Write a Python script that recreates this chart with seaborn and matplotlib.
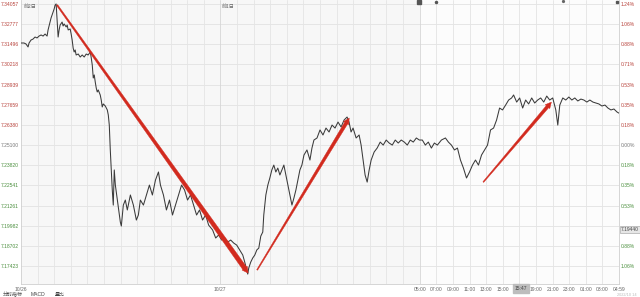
import numpy as np
import pandas as pd
import matplotlib
matplotlib.use("Agg")
import matplotlib.pyplot as plt
import seaborn as sns
from matplotlib.patches import Polygon
from matplotlib.transforms import IdentityTransform, blended_transform_factory

# ---------------- data ----------------
hours_a = [0.00, 0.36, 0.60, 0.85, 0.97, 1.21, 1.45, 1.69, 1.93, 2.17, 2.42, 2.66, 2.90, 3.14, 3.26,
           3.50, 3.62, 3.74, 3.87, 3.99, 4.11, 4.23]
price_a = [7.3158, 7.3158, 7.3152, 7.3133, 7.3158, 7.3177, 7.3183, 7.3196, 7.3190, 7.3202, 7.3209, 7.3202,
           7.3215, 7.3202, 7.3241, 7.3291, 7.3317, 7.3336, 7.3355, 7.3374, 7.3399, 7.3406]

hours_b = [4.35, 4.47, 4.59, 4.71, 4.95, 5.07, 5.19, 5.44, 5.56, 5.68, 5.92, 6.04, 6.16, 6.28, 6.40, 6.52,
           6.64, 6.89, 7.13, 7.37, 7.61, 7.85, 8.09, 8.34, 8.46, 8.58, 8.70, 8.82, 8.94, 9.06, 9.18, 9.30,
           9.54, 9.66, 9.78, 9.91, 10.15, 10.27, 10.39, 10.51, 10.63, 10.75]
price_b = [7.3304, 7.3196, 7.3241, 7.3272, 7.3291, 7.3266, 7.3279, 7.3260, 7.3272, 7.3241, 7.3247, 7.3215,
           7.3177, 7.3126, 7.3101, 7.3114, 7.3082, 7.3088, 7.3069, 7.3082, 7.3069, 7.3088, 7.3082, 7.3101,
           7.3063, 7.3018, 7.2936, 7.2955, 7.2910, 7.2872, 7.2847, 7.2860, 7.2828, 7.2796, 7.2752, 7.2771,
           7.2758, 7.2745, 7.2733, 7.2701, 7.2637, 7.2479]

hours_c = [10.99, 11.11, 11.23, 11.36, 11.60, 11.84, 11.96, 12.08, 12.20, 12.32, 12.56, 12.80, 13.17, 13.53,
           13.89, 14.13, 14.37, 14.74, 15.10, 15.46, 15.82, 16.19, 16.55, 16.79, 17.15, 17.51, 17.88, 18.24,
           18.60, 18.96, 19.33, 19.69, 20.05, 20.41, 20.78, 21.14, 21.50, 21.86, 22.23, 22.59, 23.07, 23.44,
           23.80, 24.16, 24.52, 24.88, 25.25, 25.61, 25.97, 26.33, 26.70, 26.94, 27.18, 27.30, 27.42]
price_c = [7.2225, 7.2129, 7.2352, 7.2256, 7.2161, 7.2066, 7.2021, 7.1996, 7.2066, 7.2129, 7.2161, 7.2098,
           7.2193, 7.2129, 7.2034, 7.2066, 7.2161, 7.2129, 7.2193, 7.2256, 7.2193, 7.2288, 7.2339, 7.2256,
           7.2193, 7.2098, 7.2161, 7.2066, 7.2129, 7.2193, 7.2256, 7.2225, 7.2161, 7.2193, 7.2129, 7.2066,
           7.2098, 7.2034, 7.2066, 7.2002, 7.1971, 7.1920, 7.1939, 7.1907, 7.1920, 7.1894, 7.1907, 7.1888,
           7.1875, 7.1844, 7.1812, 7.1767, 7.1717, 7.1691, 7.1729]

hours_d = [27.66, 27.90, 28.15, 28.39, 28.63, 28.87, 29.11, 29.23, 29.35, 29.48, 29.72, 29.96, 30.20, 30.44,
           30.68, 30.92, 31.17, 31.41, 31.65, 31.89, 32.13, 32.37, 32.62, 32.86, 33.10, 33.34, 33.58, 33.82,
           34.07, 34.43, 34.79, 35.03, 35.27, 35.64, 36.00, 36.36, 36.72, 37.09, 37.45, 37.81, 38.17, 38.54,
           38.90, 39.26, 39.50, 39.74, 39.98, 40.35, 40.71, 40.95, 41.19, 41.43, 41.68, 41.92, 42.16, 42.52,
           42.88, 43.25, 43.61, 43.97, 44.33, 44.70, 45.06, 45.42, 45.78, 46.15, 46.51, 46.87, 47.23, 47.60,
           47.96]
price_d = [7.1767, 7.1793, 7.1812, 7.1844, 7.1856, 7.1932, 7.1958, 7.2066, 7.2129, 7.2193, 7.2256, 7.2301,
           7.2352, 7.2383, 7.2339, 7.2364, 7.2320, 7.2352, 7.2383, 7.2320, 7.2256, 7.2193, 7.2129, 7.2174,
           7.2225, 7.2288, 7.2352, 7.2383, 7.2447, 7.2479, 7.2415, 7.2491, 7.2542, 7.2555, 7.2606, 7.2574,
           7.2618, 7.2593, 7.2637, 7.2618, 7.2656, 7.2625, 7.2669, 7.2688, 7.2656, 7.2593, 7.2618, 7.2555,
           7.2574, 7.2510, 7.2415, 7.2320, 7.2275, 7.2352, 7.2415, 7.2466, 7.2491, 7.2529, 7.2510, 7.2542,
           7.2523, 7.2510, 7.2542, 7.2523, 7.2542, 7.2529, 7.2510, 7.2542, 7.2529, 7.2555, 7.2542]

hours_e = [48.32, 48.68, 49.04, 49.41, 49.77, 50.13, 50.62, 51.10, 51.46, 51.82, 52.19, 52.55, 52.91, 53.27,
           53.64, 54.00, 54.36, 54.72, 55.08, 55.45, 55.81, 56.17, 56.53, 56.90, 57.26, 57.62, 57.98, 58.35,
           58.71, 59.07, 59.31, 59.68, 60.04, 60.40, 60.76, 61.12, 61.49, 61.85, 62.21, 62.57, 62.94, 63.30,
           63.66, 64.02, 64.39, 64.63, 64.87, 65.23, 65.59, 65.96, 66.32, 66.68, 67.04, 67.41, 67.77, 68.13,
           68.49, 68.86, 69.22, 69.58, 69.94, 70.31, 70.67, 71.03, 71.39, 71.76, 71.98]
price_e = [7.2542, 7.2510, 7.2529, 7.2491, 7.2523, 7.2510, 7.2542, 7.2555, 7.2529, 7.2510, 7.2479, 7.2491,
           7.2415, 7.2364, 7.2301, 7.2339, 7.2383, 7.2415, 7.2383, 7.2447, 7.2479, 7.2510, 7.2606, 7.2618,
           7.2669, 7.2745, 7.2733, 7.2764, 7.2796, 7.2809, 7.2828, 7.2783, 7.2809, 7.2745, 7.2796, 7.2771,
           7.2809, 7.2777, 7.2796, 7.2809, 7.2783, 7.2821, 7.2796, 7.2809, 7.2733, 7.2637, 7.2764, 7.2809,
           7.2796, 7.2815, 7.2796, 7.2809, 7.2790, 7.2802, 7.2796, 7.2783, 7.2796, 7.2783, 7.2777, 7.2771,
           7.2758, 7.2764, 7.2745, 7.2733, 7.2739, 7.2720, 7.2713]

left_labels = ["7.34057", "7.32777", "7.31496", "7.30218", "7.28939", "7.27659", "7.26380",
               "7.25100", "7.23820", "7.22541", "7.21261", "7.19982", "7.18702", "7.17423"]
# the 7th label below zero is hidden behind the current-price box in the reference
right_labels = ["1.24%", "1.06%", "0.88%", "0.71%", "0.53%", "0.35%", "0.18%",
                "0.00%", "0.18%", "0.35%", "0.53%", "", "0.88%", "1.06%"]
x_tick_hours = [0, 24, 48, 50, 52, 54, 56, 58, 60, 62, 64, 66, 68, 70, 71.98]
x_tick_labels = ["10/26", "10/27", "05:00", "07:00", "09:00", "11:00", "13:00", "15:00", "17:00",
                 "19:00", "21:00", "23:00", "01:00", "03:00", "04:59"]
# annotation arrows: (start hour, start price) -> (end hour, end price)
arrow_starts = [(4.34, 7.3399), (28.43, 7.1717), (55.66, 7.2275)]
arrow_ends = [(27.35, 7.1697), (39.52, 7.2682), (63.86, 7.2783)]

hours = hours_a + hours_b + hours_c + hours_d + hours_e
prices = price_a + price_b + price_c + price_d + price_e
df = pd.DataFrame({"hour": hours, "price": prices})

# ---------------- figure ----------------
sns.set_theme(style="white")
plt.rcParams["font.family"] = ["Liberation Sans", "DejaVu Sans"]
W, H = 640, 297
fig = plt.figure(figsize=(W / 100, H / 100), dpi=100)
fig.patch.set_facecolor("white")
ax = fig.add_axes([21 / W, 1 - 284 / H, (619 - 21) / W, 284 / H])
ax.set_facecolor("#f7f7f7")
ax.axvspan(48, 72, color="#fcfcfc", zorder=0, lw=0)

ymin, ymax = 7.1628, 7.3431
ax.set_xlim(0, 72)
ax.set_ylim(ymin, ymax)
ax.set_autoscale_on(False)

yticks = [float(v) for v in left_labels]
for y in yticks:
    ax.axhline(y, color="#e2e2e2", lw=0.6, zorder=1)
for xv in range(2, 72, 2):
    c = "#d6d6d6" if xv in (24, 48) else "#e4e4e4"
    ax.axvline(xv, color=c, lw=0.6, zorder=1)

sns.lineplot(data=df, x="hour", y="price", ax=ax, color="#3a3a3a", lw=0.75, zorder=3,
             estimator=None, sort=False)
ax.set_xlabel("")
ax.set_ylabel("")

ax.set_yticks(yticks)
ax.set_yticklabels(left_labels)
ref = 7.25100
red, green, grey = "#b8433c", "#4b8f3e", "#777777"
for lab, v in zip(ax.get_yticklabels(), yticks):
    lab.set_color(red if v > ref + 1e-6 else (green if v < ref - 1e-6 else grey))
    lab.set_fontsize(3.6)
ax.tick_params(axis="y", length=0, pad=1.5)

ax.set_xticks(x_tick_hours)
ax.set_xticklabels(x_tick_labels, fontsize=3.6, color="#666666")
ax.tick_params(axis="x", length=0, pad=2.0)

ax2 = ax.twinx()
ax2.set_ylim(ymin, ymax)
ax2.set_yticks(yticks)
ax2.set_yticklabels(right_labels)
for lab, v in zip(ax2.get_yticklabels(), yticks):
    lab.set_color(red if v > ref + 1e-6 else (green if v < ref - 1e-6 else grey))
    lab.set_fontsize(3.6)
ax2.tick_params(axis="y", length=0, pad=1.5)
ax2.grid(False)

for a in (ax, ax2):
    for s in a.spines.values():
        s.set_visible(False)
for side in ("left", "bottom", "right"):
    ax.spines[side].set_visible(True)
    ax.spines[side].set_color("#cfcfcf")
    ax.spines[side].set_linewidth(0.6)

# top labels
cjk = ["Noto Sans CJK SC", "DejaVu Sans"]
trans_top = blended_transform_factory(ax.transData, ax.transAxes)
ax.text(0.3, 0.985, "前2日", transform=trans_top, fontsize=3.6, color="#666666", family=cjk, va="top", ha="left")
ax.text(24.2, 0.985, "前1日", transform=trans_top, fontsize=3.6, color="#666666", family=cjk, va="top", ha="left")

# small event markers at the top
ax.plot([47.9], [0.994], marker="s", ms=2.2, color="#555555", transform=trans_top, clip_on=False, zorder=5)
ax.plot([50.0], [0.994], marker="o", ms=1.5, color="#555555", transform=trans_top, clip_on=False, zorder=5)
ax.plot([65.3], [0.996], marker="o", ms=1.3, color="#666666", transform=trans_top, clip_on=False, zorder=5)
ax.plot([71.8], [0.994], marker="s", ms=2.0, color="#555555", transform=trans_top, clip_on=False, zorder=5)

# crosshair labels
fig.text(520.5 / W, 1 - 288.5 / H, "15:47", fontsize=3.6, color="#444444", ha="center", va="center",
         bbox=dict(boxstyle="square,pad=0.35", fc="#bdbdbd", ec="#bdbdbd"), zorder=10)
fig.text(630 / W, 1 - 229.5 / H, "7.19440", fontsize=3.5, color="#444444", ha="center", va="center",
         bbox=dict(boxstyle="square,pad=0.3", fc="#e6e6e6", ec="#9a9a9a", lw=0.4), zorder=10)

# bottom tabs
fig.text(3 / W, 1 - 294.5 / H, "分时指标", fontsize=3.6, color="#444444", family=cjk, va="center", ha="left")
fig.text(31 / W, 1 - 294.5 / H, "MACD", fontsize=3.6, color="#444444", va="center", ha="left")
fig.text(55 / W, 1 - 294.5 / H, "量比", fontsize=3.6, color="#444444", family=cjk, va="center", ha="left")
fig.text(637 / W, 1 - 295 / H, "2022/10 14", fontsize=2.8, color="#bbbbbb", va="center", ha="right")

# tapered red arrows (drawn in pixel space after the data->pixel transform)
def taper_arrow(p0, p1, w0, w1, hl, hw, color):
    a = np.array(ax.transData.transform(p0))
    b = np.array(ax.transData.transform(p1))
    d = b - a
    u = d / np.hypot(*d)
    n = np.array([-u[1], u[0]])
    c = b - u * hl
    pts = [a + n * w0 / 2, c + n * w1 / 2, c + n * hw, b, c - n * hw, c - n * w1 / 2, a - n * w0 / 2]
    poly = Polygon(pts, closed=True, transform=IdentityTransform(), facecolor=color,
                   edgecolor=color, lw=0.3, zorder=6)
    fig.add_artist(poly)

widths = [(1.4, 4.6, 6, 3.2), (1.0, 3.4, 6, 3.0), (1.0, 3.2, 6, 3.0)]
for s, e, (w0, w1, hl, hw) in zip(arrow_starts, arrow_ends, widths):
    taper_arrow(s, e, w0, w1, hl, hw, "#d22a1e")

fig.savefig("out.png", dpi=100)
